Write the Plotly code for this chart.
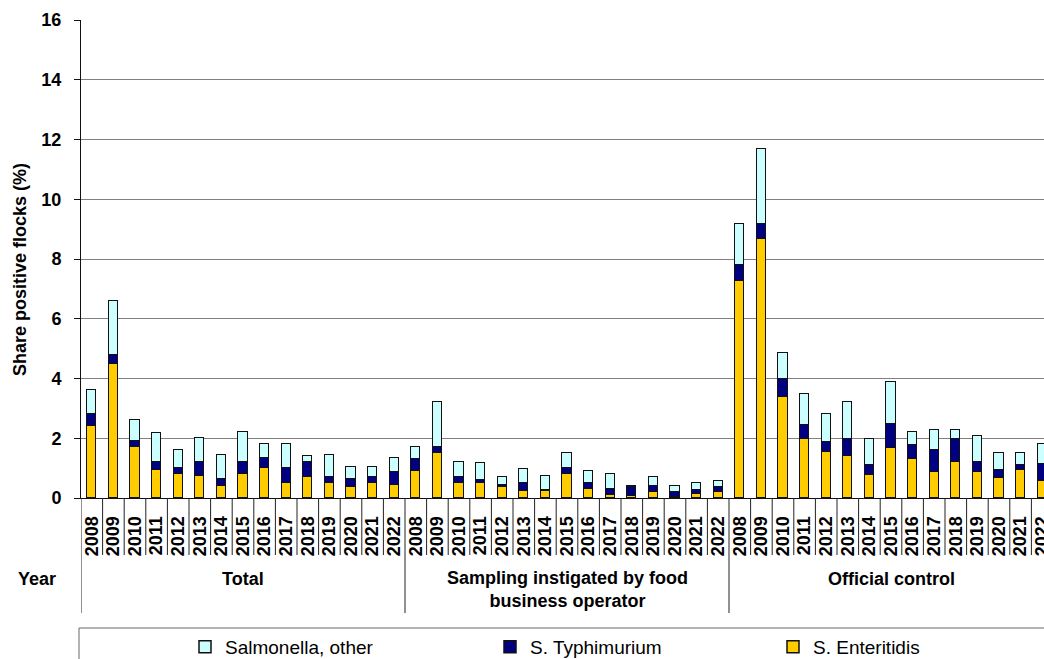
import plotly.graph_objects as go

# Category structure
groups = ["Total", "Sampling instigated by food<br>business operator", "Official control"]
years = ["2008", "2009", "2010", "2011", "2012", "2013", "2014", "2015",
         "2016", "2017", "2018", "2019", "2020", "2021", "2022"]

# Share of positive flocks (%) per serovar, one list per group
total_enteritidis = [2.40, 4.50, 1.70, 0.95, 0.80, 0.75, 0.40, 0.80, 1.00, 0.50, 0.70, 0.50, 0.37, 0.51, 0.42]
total_typhimurium = [0.40, 0.30, 0.20, 0.27, 0.21, 0.46, 0.23, 0.40, 0.33, 0.52, 0.51, 0.21, 0.25, 0.18, 0.46]
total_other       = [0.80, 1.80, 0.70, 0.96, 0.61, 0.80, 0.80, 1.00, 0.48, 0.79, 0.21, 0.72, 0.42, 0.35, 0.47]

fbo_enteritidis = [0.90, 1.50, 0.50, 0.50, 0.38, 0.24, 0.24, 0.80, 0.30, 0.09, 0.08, 0.19, 0.03, 0.13, 0.19]
fbo_typhimurium = [0.41, 0.20, 0.21, 0.10, 0.05, 0.25, 0.03, 0.21, 0.21, 0.22, 0.29, 0.20, 0.18, 0.14, 0.19]
fbo_other       = [0.39, 1.51, 0.51, 0.56, 0.28, 0.48, 0.46, 0.51, 0.41, 0.50, 0.04, 0.32, 0.20, 0.22, 0.19]

official_enteritidis = [7.27, 8.68, 3.38, 1.96, 1.55, 1.40, 0.78, 1.66, 1.30, 0.88, 1.19, 0.88, 0.68, 0.94, 0.58]
official_typhimurium = [0.53, 0.50, 0.59, 0.47, 0.34, 0.59, 0.32, 0.83, 0.49, 0.73, 0.80, 0.33, 0.27, 0.15, 0.55]
official_other       = [1.38, 2.51, 0.89, 1.05, 0.92, 1.23, 0.89, 1.40, 0.41, 0.68, 0.30, 0.88, 0.57, 0.40, 0.67]

series_names = ["S. Enteritidis", "S. Typhimurium", "Salmonella, other"]
series_colors = ["#FFCC00", "#000080", "#CCFFFF"]

enteritidis = total_enteritidis + fbo_enteritidis + official_enteritidis
typhimurium = total_typhimurium + fbo_typhimurium + official_typhimurium
other = total_other + fbo_other + official_other

n_years = len(years)
n_cats = n_years * len(groups)
xpos = list(range(n_cats))
ticktext = years * len(groups)

FONT = "Liberation Sans, Arial, sans-serif"

# Plot-area geometry (pixels)
W, H = 1044, 659
ML, MT, MB = 81, 20, 161
plot_w = W - ML
plot_h = H - MT - MB
cat_px = 21.6


def py(pixel_y):
    """Convert a page y pixel into paper coordinates."""
    return (H - MB - pixel_y) / plot_h


def px(pixel_x):
    """Convert a page x pixel into paper coordinates."""
    return (pixel_x - ML) / plot_w


fig = go.Figure()
legend_ids = ["legend3", "legend2", "legend"]
for name, color, vals, lg in zip(series_names, series_colors,
                                 [enteritidis, typhimurium, other], legend_ids):
    fig.add_trace(go.Bar(
        x=xpos, y=vals, name=name, width=0.43, showlegend=True,
        marker=dict(color=color, line=dict(color="#111111", width=1.5)),
        legend=lg,
    ))

x_max = -0.5 + plot_w / cat_px

shapes = []
# Separators between year cells
for k in range(n_cats + 1):
    is_group = (k % n_years == 0)
    shapes.append(dict(
        type="line", xref="x", yref="paper",
        x0=k - 0.5, x1=k - 0.5, y0=0, y1=py(613) if is_group else py(555),
        line=dict(color="#222222", width=1),
    ))
# Legend frame
shapes.append(dict(
    type="rect", xref="paper", yref="paper",
    x0=px(79), x1=px(1060), y0=py(628), y1=py(680),
    line=dict(color="#666666", width=1), fillcolor="rgba(0,0,0,0)",
))

label_font = dict(family=FONT, size=18, color="black", weight="bold")
annotations = []
for gi, g in enumerate(groups):
    center = gi * n_years + (n_years - 1) / 2
    two_lines = "<br>" in g
    annotations.append(dict(
        text=g, xref="x", yref="paper", x=center, xanchor="center",
        y=py(566) if two_lines else py(579),
        yanchor="top" if two_lines else "middle",
        showarrow=False, align="center", font=label_font,
    ))
annotations.append(dict(
    text="Year", xref="paper", yref="paper", x=px(37), y=py(579),
    xanchor="center", yanchor="middle", showarrow=False, font=label_font,
))
annotations.append(dict(
    text="Share positive flocks (%)", xref="paper", yref="paper",
    x=px(20), y=py(270), xanchor="center", yanchor="middle",
    textangle=-90, showarrow=False, font=label_font,
))

legend_common = dict(
    orientation="h", yanchor="middle", y=py(647), xanchor="left",
    bgcolor="rgba(0,0,0,0)", borderwidth=0,
    font=dict(family=FONT, size=19, color="black"),
)

fig.update_layout(
    width=W, height=H,
    margin=dict(l=ML, r=0, t=MT, b=MB, pad=0, autoexpand=False),
    paper_bgcolor="white", plot_bgcolor="white",
    barmode="stack", bargap=0, showlegend=True,
    font=dict(family=FONT, color="black"),
    xaxis=dict(
        range=[-0.5, x_max], tickmode="array", tickvals=xpos, ticktext=ticktext,
        tickangle=-90, ticks="", showgrid=False, zeroline=False,
        showline=True, linecolor="#111111", linewidth=1, automargin=False,
        tickfont=dict(family=FONT, size=18, color="black", weight="bold"),
        ticklabelstandoff=10, ticklabeloverflow="allow",
    ),
    yaxis=dict(
        range=[0, 16], dtick=2, tick0=0, showgrid=True, gridcolor="#808080",
        gridwidth=1, zeroline=False, showline=True, linecolor="#111111",
        linewidth=1, ticks="outside", ticklen=6, tickcolor="#111111",
        automargin=False,
        tickfont=dict(family=FONT, size=18, color="black", weight="bold"),
        ticklabelstandoff=9,
    ),
    shapes=shapes,
    annotations=annotations,
    legend=dict(x=px(185), **legend_common),
    legend2=dict(x=px(490), **legend_common),
    legend3=dict(x=px(773), **legend_common),
)

fig.write_html("out.html")
